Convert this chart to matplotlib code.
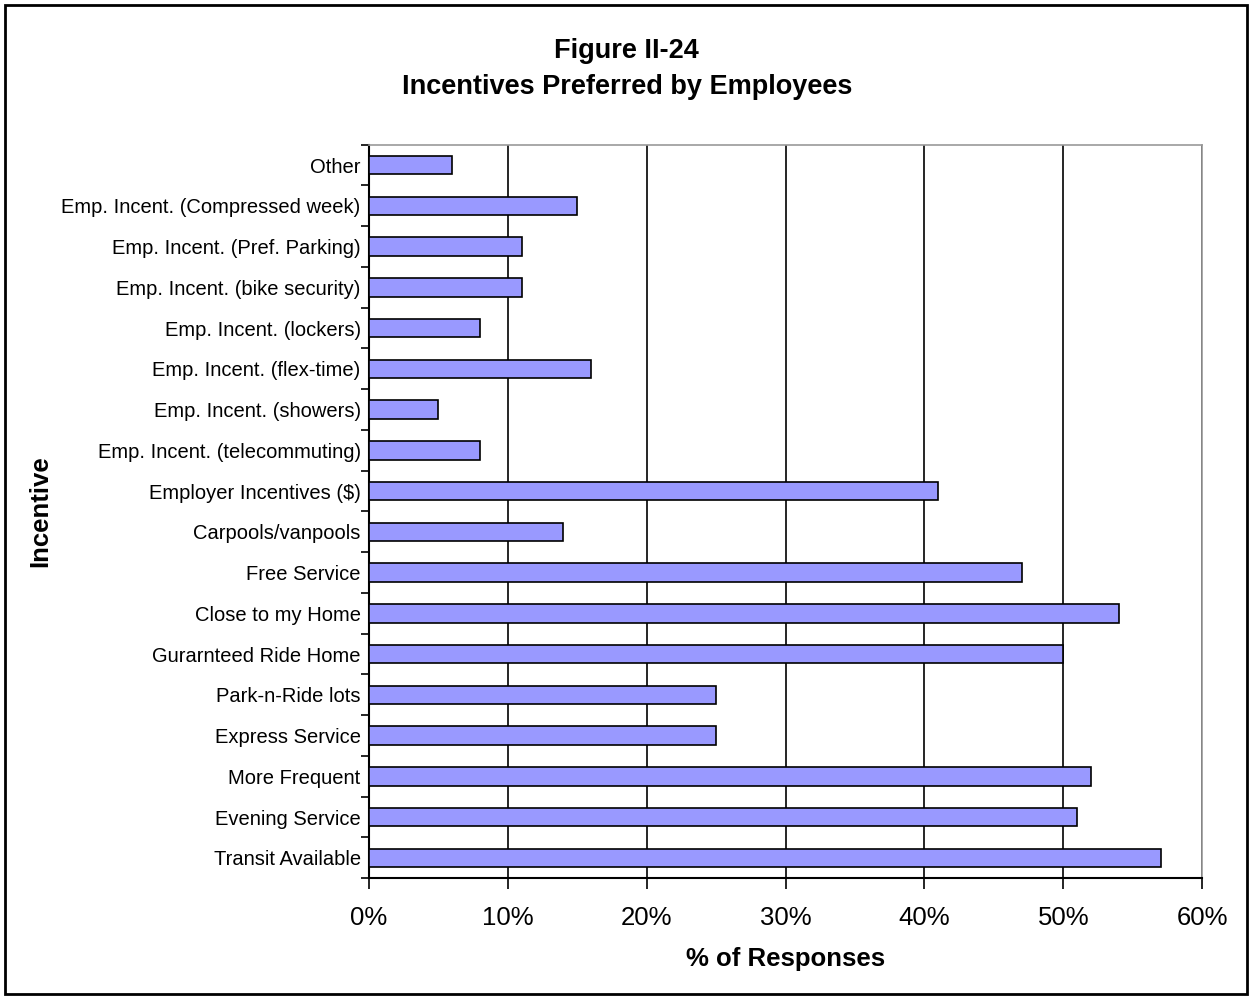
import numpy as np
import matplotlib.pyplot as plt
from matplotlib.patches import Rectangle

plt.rcParams['font.family'] = ['Liberation Sans', 'DejaVu Sans']

# Incentive categories, bottom to top
incentives = ['Transit Available', 'Evening Service', 'More Frequent', 'Express Service',
              'Park-n-Ride lots', 'Gurarnteed Ride Home', 'Close to my Home', 'Free Service',
              'Carpools/vanpools', 'Employer Incentives ($)', 'Emp. Incent. (telecommuting)',
              'Emp. Incent. (showers)', 'Emp. Incent. (flex-time)', 'Emp. Incent. (lockers)',
              'Emp. Incent. (bike security)', 'Emp. Incent. (Pref. Parking)',
              'Emp. Incent. (Compressed week)', 'Other']
# Percent of responses
pct = [57, 51, 52, 25, 25, 50, 54, 47, 14, 41, 8, 5, 16, 8, 11, 11, 15, 6]
xticks = [0, 10, 20, 30, 40, 50, 60]

fig = plt.figure(figsize=(12.51, 9.98), dpi=100)
ax = fig.add_axes([0.295, 0.120, 0.666, 0.735])

y = np.arange(len(incentives))
ax.barh(y, pct, height=0.45, color='#9999FF', edgecolor='black', linewidth=1.2, zorder=3)

ax.set_xlim(0, 60)
ax.set_ylim(-0.5, len(incentives) - 0.5)
ax.set_xticks(xticks)
ax.set_xticklabels([f'{v}%' for v in xticks], fontsize=18.5)
ax.tick_params(axis='x', direction='out', length=8, width=1.2, pad=12)
ax.xaxis.grid(True, color='black', linewidth=1.2, zorder=1)

ax.set_yticks(y)
ax.set_yticklabels(incentives, fontsize=14.5)
ax.tick_params(axis='y', which='major', length=0, pad=6)
ax.set_yticks(np.arange(-0.5, len(incentives)), minor=True)
ax.tick_params(axis='y', which='minor', direction='out', length=6, width=1.2)

for side in ['top', 'right']:
    ax.spines[side].set_color('#999999')
    ax.spines[side].set_linewidth(1.2)
for side in ['left', 'bottom']:
    ax.spines[side].set_linewidth(1.5)

ax.set_xlabel('% of Responses', fontsize=18.5, fontweight='bold', labelpad=12)
ax.set_ylabel('Incentive', fontsize=18.5, fontweight='bold')
ax.yaxis.set_label_coords(-0.38, 0.5)

fig.text(0.501, 0.949, 'Figure II-24', ha='center', va='center', fontsize=19.5, fontweight='bold')
fig.text(0.501, 0.913, 'Incentives Preferred by Employees', ha='center', va='center',
         fontsize=19.5, fontweight='bold')

# chart area frame
fig.patches.append(Rectangle((0.004, 0.004), 0.993, 0.991, transform=fig.transFigure,
                             fill=False, edgecolor='black', linewidth=2))

fig.savefig('out.png', dpi=100)
